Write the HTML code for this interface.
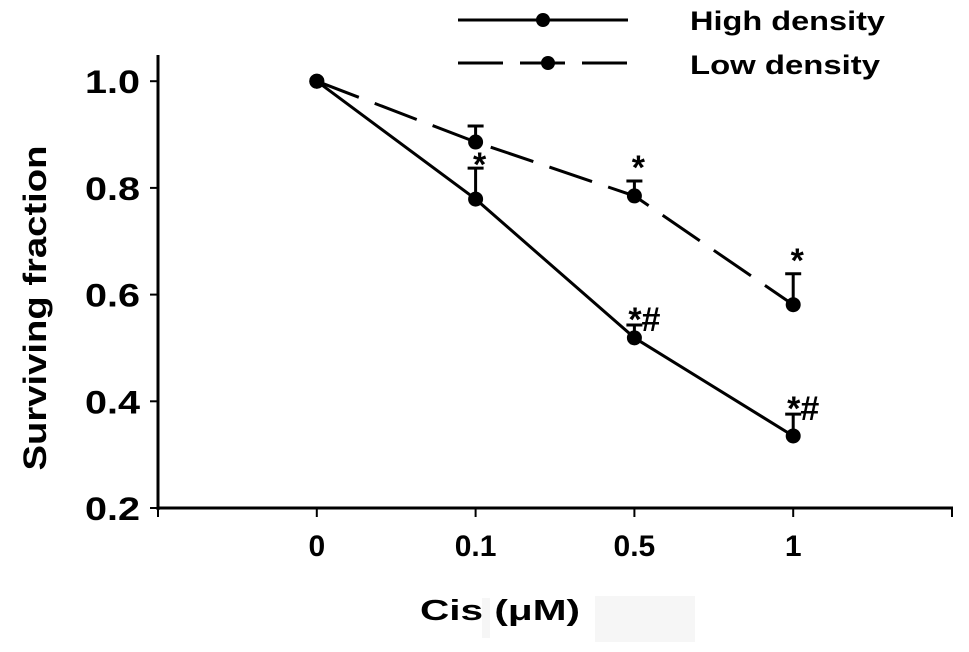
<!DOCTYPE html>
<html><head><meta charset="utf-8"><style>
body{margin:0;background:#fff}
svg text{font-family:"Liberation Sans",Arial,sans-serif;font-weight:bold;fill:#000}
</style></head><body>
<svg id="chart" width="969" height="647" viewBox="0 0 969 647" xmlns="http://www.w3.org/2000/svg">
<rect x="595" y="596" width="100" height="46" fill="#f6f6f6"/>
<rect x="482" y="598" width="8" height="40" fill="#f6f6f6"/>
<g id="axes"></g>
<g id="series"></g>
<g>
<line x1="458" y1="20" x2="628" y2="20" stroke="#000" stroke-width="3"/>
<circle cx="543" cy="20" r="7"/>
<text x="690" y="30" font-size="27" textLength="195" lengthAdjust="spacingAndGlyphs">High density</text>
<line x1="458" y1="63" x2="628" y2="63" stroke="#000" stroke-width="3" stroke-dasharray="45,17"/>
<circle cx="548" cy="63" r="7"/>
<text x="690" y="74" font-size="27" textLength="190" lengthAdjust="spacingAndGlyphs">Low density</text>
</g>
<text transform="translate(46,308) rotate(-90)" text-anchor="middle" font-size="32" textLength="325" lengthAdjust="spacingAndGlyphs">Surviving fraction</text>
<text x="500" y="620" text-anchor="middle" font-size="29" textLength="160" lengthAdjust="spacingAndGlyphs">Cis (μM)</text>
</svg>
<script>
const categories = ["0", "0.1", "0.5", "1"];
const highValues = [1.0, 0.779, 0.519, 0.335];
const highErr = [0, 0.058, 0.024, 0.041];
const lowValues = [1.0, 0.886, 0.785, 0.581];
const lowErr = [0, 0.030, 0.028, 0.058];
const yTicks = [0.2, 0.4, 0.6, 0.8, 1.0];
const yTickLabels = ["0.2", "0.4", "0.6", "0.8", "1.0"];
const highMarks = ["", "*", "*#", "*#"];
const lowMarks = ["", "", "*", "*"];

const NS = "http://www.w3.org/2000/svg";
const X0 = 158, STEP = 158.8, Y0 = 508, PER = 533.5;
function xs(i){ return X0 + STEP*(i+1); }
function ys(v){ return Y0 - (v-0.2)*PER; }
function mk(tag, attrs, parent){ const e=document.createElementNS(NS,tag); for(const k in attrs) e.setAttribute(k,attrs[k]); parent.appendChild(e); return e; }
const axes = document.getElementById('axes');
const ser = document.getElementById('series');

let l = mk('line',{x1:X0,y1:55,x2:X0,y2:Y0+2,stroke:'#000','stroke-width':3},axes);


l = mk('line',{x1:X0-1,y1:Y0,x2:X0+STEP*5+1,y2:Y0,stroke:'#000','stroke-width':3},axes);


yTicks.forEach((v,i)=>{
  const t = mk('line',{x1:X0-8,y1:ys(v),x2:X0,y2:ys(v),stroke:'#000','stroke-width':2},axes);
  
  
  const tx = mk('text',{x:85,y:ys(v)+12,'font-size':32,textLength:55,lengthAdjust:'spacingAndGlyphs'},axes);
  tx.textContent = yTickLabels[i];
  
  
});
for(let i=0;i<=5;i++){
  const t = mk('line',{x1:X0+STEP*i,y1:Y0,x2:X0+STEP*i,y2:Y0+9,stroke:'#000','stroke-width':2},axes);
  
  
}
categories.forEach((c,i)=>{
  const tx = mk('text',{x:xs(i),y:556,'text-anchor':'middle','font-size':30},axes);
  tx.textContent = c;
  
  
});

function drawSeries(vals, errs, marks, dash, name){
  const pts = vals.map((v,i)=>xs(i)+','+ys(v)).join(' ');
  const pl = mk('polyline',{points:pts,fill:'none',stroke:'#000','stroke-width':3,'stroke-dasharray':dash},ser);
  
  
  vals.forEach((v,i)=>{
    if(errs[i]>0){
      const top = ys(v+errs[i]);
      const e = mk('path',{d:`M${xs(i)},${ys(v)} V${top} M${xs(i)-8},${top} H${xs(i)+8}`,stroke:'#000','stroke-width':3,fill:'none'},ser);
      
      
    }
    const c = mk('circle',{cx:xs(i),cy:ys(v),r:7.5},ser);
    
    
    if(marks[i]){
      const top = ys(v+errs[i]);
      const two = marks[i].length>1;
      const t = mk('text',{x:xs(i)+(two?10:4),y:top+(two?6:-2),'text-anchor':'middle','font-size':34},ser);
      t.textContent = marks[i];
      
      
    }
  });
}
drawSeries(lowValues, lowErr, lowMarks, '45,17', 'low-density');
drawSeries(highValues, highErr, ["", "", "*#", "*#"], 'none', 'high-density');
const st = mk('text',{x:xs(1)+4,y:ys(highValues[1]+highErr[1])+8,'text-anchor':'middle','font-size':34},ser);
st.textContent = highMarks[1];


</script>
</body></html>
